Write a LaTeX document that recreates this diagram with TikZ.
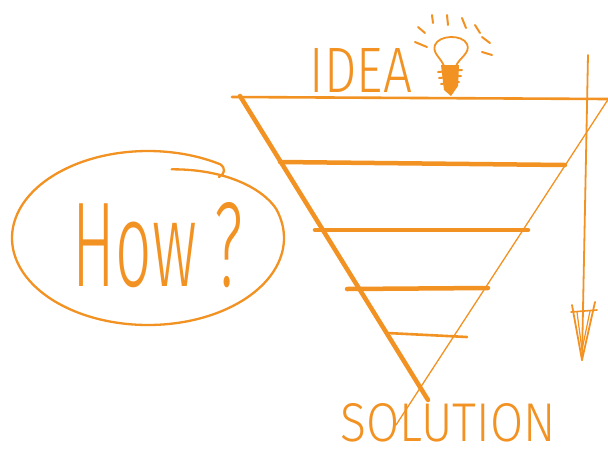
\documentclass[tikz,border=0pt]{standalone}
\usepackage{fontspec}
\usepackage{graphicx}
\IfFontExistsTF{Fira Sans Light}{\newfontfamily\hand{Fira Sans Light}}{\newfontfamily\hand{Fira Sans}}
\definecolor{org}{RGB}{242,146,34}
\begin{document}
\begin{tikzpicture}[x=1pt,y=-1pt,line cap=round,line join=round,
  thickline/.style={draw=org,line width=4.5pt},
  medline/.style={draw=org,line width=2.6pt},
  thinline/.style={draw=org,line width=1.3pt},
  rayline/.style={draw=org,line width=2pt},
  lbl/.style={text=org,inner sep=0pt}]
\fill[white] (0,0) rectangle (608,456);
\useasboundingbox (0,0) rectangle (608,456);
% texts
\node[lbl] (idea) at (361,70) {\resizebox{102pt}{44pt}{\hand IDEA}};
\node[lbl] (sol) at (448,423) {\resizebox{215pt}{38pt}{\hand SOLUTION}};
\node[lbl] (how) at (158,245) {\resizebox{170pt}{84pt}{\hand How ?}};
% funnel
\draw[medline] (232,97) -- (608,99);
\draw[thickline] (240,96) -- (428,400);
\draw[thinline] (609,98) -- (396,425);
\draw[thickline] (280,162) -- (565,165);
\draw[thickline] (315,230) -- (528,230);
\draw[thickline] (347,289) -- (488,288);
\draw[medline] (387,333) -- (467,337);
% arrow
\draw[draw=org,line width=1.8pt] (588,55) -- (582,360);
\draw[draw=org,line width=1.8pt] (572,305) -- (582,360) -- (595,302);
\draw[draw=org,line width=1.6pt] (571,312) -- (597,310);
\draw[draw=org,line width=1.2pt] (577,312) -- (582,350) -- (590,311);
% bulb
\draw[draw=org,line width=1.8pt] (444,66) .. controls (441,58) and (432,53) .. (435,45) .. controls (439,35) and (462,34) .. (467,44) .. controls (471,53) and (459,58) .. (456,66);
\fill[org] (441,65) -- (459,65) -- (458,86) -- (451,96) -- (444,90) -- cycle;
\draw[rayline] (438,72) -- (462,70);
\draw[rayline] (439,78) -- (461,76);
\draw[rayline] (441,84) -- (459,82);
\draw[rayline] (415,42) -- (427,47);
\draw[rayline] (418,27) -- (425,33);
\draw[rayline] (432,15) -- (433,23);
\draw[rayline] (447,15) -- (448,25);
\draw[rayline] (462,18) -- (466,28);
\draw[rayline] (475,25) -- (480,33);
\draw[rayline] (482,37) -- (490,43);
\draw[rayline] (482,52) -- (492,55);
% ellipse
\draw[draw=org,line width=2.3pt] plot[domain=80:-302,samples=120,smooth]
  ({148+136*cos(\x)},{238-87*sin(\x)+17*max(0,(\x-20)/60)})
  .. controls (226,168) and (225,174) .. (219,177);
\end{tikzpicture}
\end{document}
